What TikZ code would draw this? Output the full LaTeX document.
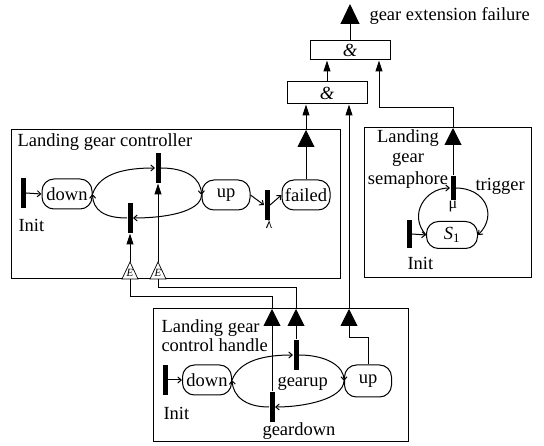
\documentclass[tikz,border=0pt]{standalone}
\usepackage{fontspec}
\setmainfont{Liberation Serif}
\usetikzlibrary{arrows.meta,calc}
\begin{document}
\begin{tikzpicture}[x=1pt,y=-1pt, line width=1pt,
  every node/.style={font=\fontsize{18.5pt}{20pt}\selectfont, inner sep=0pt},
  frame/.style={draw, rectangle},
  state/.style={draw, rectangle, rounded corners=12pt, minimum height=30pt},
  bar/.style={fill=black, rectangle, minimum width=5pt, minimum height=30pt},
  gate/.style={draw, rectangle, minimum width=80pt, minimum height=19pt},
  txt/.style={anchor=base west},
  ctxt/.style={anchor=base},
  small/.style={font=\fontsize{11pt}{11pt}\selectfont},
  etri/.style={draw, fill=white, line width=0.7pt},
  sa/.style={-{Straight Barb[length=3.5pt,width=6pt]}},
  fa/.style={-{Triangle[length=11pt,width=7pt]}},
  pa/.style={-{Triangle[length=17pt,width=17pt]}},
  oa/.style={-{Triangle[length=20pt,width=19pt]}}
]
\useasboundingbox (0,0) rectangle (544,446);

% ---------- gates ----------
\node[gate] (and1) at (350,50.5) {\textit{\&}};
\node[gate, minimum height=22pt] (and2) at (327,93) {\textit{\&}};
\coordinate (outtip) at (350,4);
\draw[oa] (and1.north) -- (outtip);
\node[txt] (outtxt) at (369,21) {gear extension failure};
\draw[fa] (and2.north) -- (and2.north |- and1.south);

% ---------- controller ----------
\node[frame, minimum width=329pt, minimum height=149pt] (cbox) at (175.5,204.5) {};
\node[txt] (ctitle) at (17,147) {Landing gear controller};
\node[bar] (cinit) at (23,193) {};
\node[state, minimum width=50pt] (cdown) at (67,194) {down};
\node[txt] (cinittxt) at (18,232) {Init};
\node[bar] (ctop) at (158,168) {};
\node[bar] (cbot) at (130,218) {};
\node[state, minimum width=48pt] (cup) at (226,195) {up};
\node[bar] (cfb) at (267,205) {};
\node[font=\fontsize{14pt}{14pt}\selectfont] (clam) at (269,224) {λ};
\node[state, minimum width=48pt] (cfailed) at (306,195) {failed};

\draw[sa] (cinit.east) -- (cdown.west);
\draw[sa] (cdown.east) .. controls (100,172) and (128,168) .. (ctop.west);
\draw[sa] (ctop.east) .. controls (186,168) and (201,178) .. (cup.west);
\draw[sa] (cup.west) .. controls (201,212) and (165,218) .. (cbot.east);
\draw[sa] (cbot.west) .. controls (104,218) and (93,210) .. (cdown.east);
\draw[sa] (cup.east) -- (cfb.west);
\draw[sa] (cfb.east) -- (cfailed.west);

\coordinate (cport) at (306,130);
\draw[pa] (cfailed.north) -- (cport);
\draw[fa] (cport) -- (cport |- and2.south);

% E triangles
\coordinate (e1) at (130,279);
\coordinate (e1top) at (130,262);
\coordinate (e2) at (158,279);
\coordinate (e2top) at (158,262);
\draw[etri] ($(e1)+(-8,0)$) -- (e1top) -- ($(e1)+(8,0)$) -- cycle;
\draw[etri] ($(e2)+(-8,0)$) -- (e2top) -- ($(e2)+(8,0)$) -- cycle;
\node[small, font=\itshape\fontsize{11pt}{11pt}\selectfont] (e1txt) at ($(e1)+(0,-6)$) {E};
\node[small, font=\itshape\fontsize{11pt}{11pt}\selectfont] (e2txt) at ($(e2)+(0,-6)$) {E};
\draw[fa] (e1top) -- (cbot.south);
\draw[fa] (e2top) -- (ctop.south);

% ---------- handle ----------
\node[frame, minimum width=255pt, minimum height=133pt] (hbox) at (280.5,375.5) {};
\node[txt] (htitle1) at (161,333) {Landing gear};
\node[txt] (htitle2) at (161,352) {control handle};
\node[bar] (hinit) at (165,380) {};
\node[state, minimum width=49pt] (hdown) at (207,380) {down};
\node[txt] (hinittxt) at (163,420) {Init};
\node[bar] (hgu) at (296,355) {};
\node[txt] (hgutxt) at (277,387) {gearup};
\node[bar] (hgd) at (272,407) {};
\node[txt] (hgdtxt) at (262,436) {geardown};
\node[state, minimum width=47pt, minimum height=32pt] (hup) at (368,381) {up};

\draw[sa] (hinit.east) -- (hdown.west);
\draw[sa] (hdown.east) .. controls (240,360) and (265,355) .. (hgu.west);
\draw[sa] (hgu.east) .. controls (326,355) and (344,366) .. (hup.west);
\draw[sa] (hup.west) .. controls (343,399) and (305,407) .. (hgd.east);
\draw[sa] (hgd.west) .. controls (245,407) and (233,396) .. (hdown.east);

\coordinate (hp1) at (272,309);
\coordinate (hp2) at (296,309);
\coordinate (hp3) at (349,309);
\coordinate (r1) at (130,297);
\coordinate (r2) at (158,288);
\coordinate (r3) at (349,338);
\draw[pa] (hgd.north) -- (hp1);
\draw (hp1) |- (r1) -- (e1);
\draw[pa] (hgu.north) -- (hp2);
\draw (hp2) |- (r2) -- (e2);
\draw (hup.north) |- (r3);
\draw[pa] (r3) -- (hp3);
\draw[fa] (hp3) -- (hp3 |- and2.south);

% ---------- semaphore ----------
\node[frame, minimum width=167pt, minimum height=150pt] (sbox) at (447.5,203) {};
\node[ctxt] (stitle1) at (408,143) {Landing};
\node[ctxt] (stitle2) at (408,163) {gear};
\node[ctxt] (stitle3) at (408,185) {semaphore};
\node[bar, minimum height=24pt] (sbar) at (453,188) {};
\node[ctxt, font=\fontsize{16pt}{16pt}\selectfont] (smu) at (453,209) {μ};
\node[txt] (strig) at (475,191) {trigger};
\node[state, minimum width=51pt, minimum height=27pt] (sS) at (452,235) {\textit{S}\textsubscript{1}};
\node[bar, minimum height=28pt] (sinit) at (409,234) {};
\node[txt] (sinittxt) at (407,270) {Init};

\draw[sa] (sinit.east) -- (sS.west);
\draw[sa] (sS.west) .. controls (408,215) and (425,188) .. (sbar.west);
\draw[sa] (sbar.east) .. controls (485,188) and (498,215) .. (sS.east);

\coordinate (sport) at (453,128);
\coordinate (sturn) at (379,108);
\draw[pa] (sbar.north) -- (sport);
\draw[fa] (sport) |- (sturn) -- (sturn |- and1.south);
\end{tikzpicture}
\end{document}
